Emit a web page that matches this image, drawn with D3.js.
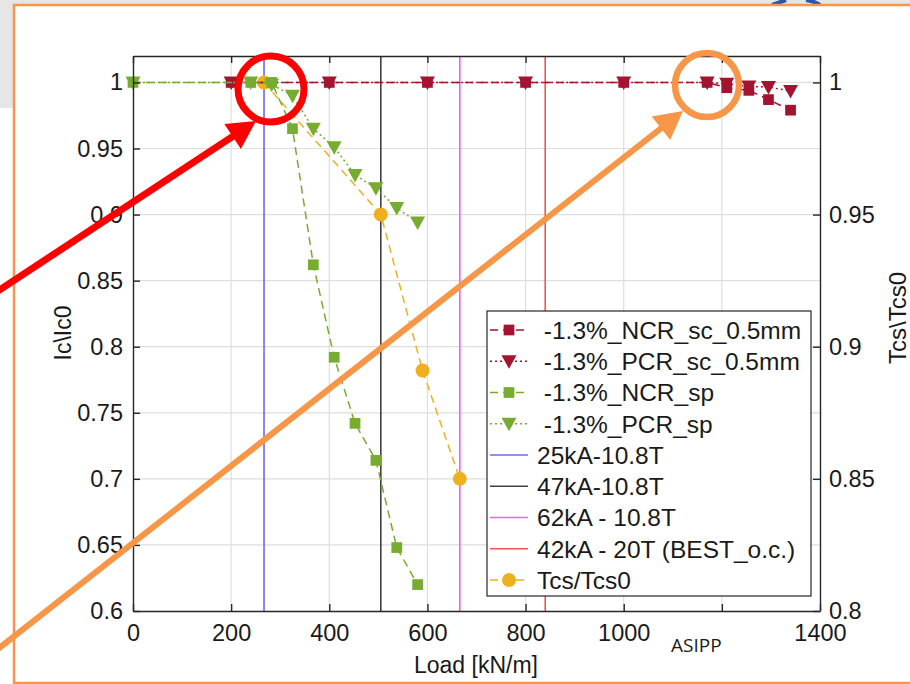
<!DOCTYPE html>
<html>
<head>
<meta charset="utf-8">
<script src="https://cdn.jsdelivr.net/npm/d3@7"></script>
<style>
body { margin: 0; background: #fff; }
text { font-family: "Liberation Sans", Arial, sans-serif; fill: #1a1a1a; }
</style>
</head>
<body>
<script>
// data
var scLoad = [200, 400, 600, 800, 1000, 1170, 1210, 1255, 1295, 1340];
var ncrScIc = [1, 1, 1, 1, 1, 1, 0.996, 0.994, 0.987, 0.979];
var pcrScIc = [1, 1, 1, 1, 1, 1, 0.999, 0.997, 0.9965, 0.9935];
var spLoad = [0, 240, 282.5, 325, 367.5, 410, 452.5, 495, 537.5, 580];
var ncrSpIc = [1, 1, 1, 0.965, 0.862, 0.792, 0.742, 0.714, 0.648, 0.620];
var pcrSpIc = [1, 1, 0.9985, 0.99, 0.965, 0.951, 0.93, 0.92, 0.905, 0.894];
var tcsLoad = [267, 505, 590, 666];
var tcsVal = [1, 0.95, 0.891, 0.85];
var refLoad = [267, 505, 666, 840];
var refNames = ["25kA-10.8T", "47kA-10.8T", "62kA - 10.8T", "42kA - 20T (BEST_o.c.)"];
var seriesNames = [" -1.3%_NCR_sc_0.5mm", " -1.3%_PCR_sc_0.5mm", " -1.3%_NCR_sp", " -1.3%_PCR_sp"];
var tcsName = "Tcs/Tcs0";
var xTicks = [0, 200, 400, 600, 800, 1000, 1200, 1400];
var xTickLabels = ["0", "200", "400", "600", "800", "1000", "", "1400"]; // 1200 hidden by the slide's ASIPP label
var yLeftTicks = [0.6, 0.65, 0.7, 0.75, 0.8, 0.85, 0.9, 0.95, 1];
var yRightTicks = [0.8, 0.85, 0.9, 0.95, 1];

var red = "#a2142f", green = "#77ac30", orange = "#edb120";
var refColors = ["#6b6bef", "#404040", "#f25ef2", "#f05555"];

var svg = d3.select("body").append("svg")
    .attr("width", 910)
    .attr("height", 684);

// slide background + frame
svg.append("rect").attr("x", 0).attr("y", 0).attr("width", 910).attr("height", 108).attr("fill", "#e6e6e6");
svg.append("path").attr("d", "M772,5 L786,0 M806,0 Q814,1 820,5").attr("stroke", "#2a55b0").attr("stroke-width", 4).attr("fill", "none");
svg.append("rect").attr("x", 14).attr("y", 5).attr("width", 900).attr("height", 678)
    .attr("fill", "#fff").attr("stroke", "#f79646").attr("stroke-width", 2.5);

var x = d3.scaleLinear().domain([0, 1400]).range([133, 820]);
var yL = d3.scaleLinear().domain([0.6, 1.02]).range([611, 56]);
var yR = d3.scaleLinear().domain([0.8, 1.01]).range([611, 56]);

var plot = svg.append("g");

// grid
plot.selectAll(".gx").data(xTicks.slice(1, -1)).enter().append("line")
    .attr("x1", d => x(d)).attr("x2", d => x(d))
    .attr("y1", yL.range()[1]).attr("y2", yL.range()[0])
    .attr("stroke", "#dedede").attr("stroke-width", 1.2);
plot.selectAll(".gy").data(yLeftTicks.slice(1)).enter().append("line")
    .attr("x1", x.range()[0]).attr("x2", x.range()[1])
    .attr("y1", d => yL(d)).attr("y2", d => yL(d))
    .attr("stroke", "#dedede").attr("stroke-width", 1.2);

// reference lines
plot.selectAll(".ref").data(refLoad).enter().append("line")
    .attr("x1", d => x(d)).attr("x2", d => x(d))
    .attr("y1", yL.range()[1]).attr("y2", yL.range()[0])
    .attr("stroke", (d, i) => refColors[i]).attr("stroke-width", 1.6);

var triPath = "M-7.5,-6L7.5,-6L0,7.5Z";
var sq = d3.symbol().type(d3.symbolSquare).size(115)();

function series(xs, ys, yScale, color, dash, marker) {
    var pts = xs.map((d, i) => [d, ys[i]]);
    var line = d3.line().x(d => x(d[0])).y(d => yScale(d[1]));
    plot.append("path").datum(pts).attr("d", line)
        .attr("fill", "none").attr("stroke", color).attr("stroke-width", 1.5)
        .attr("stroke-dasharray", dash);
    var m = plot.append("g").selectAll("path").data(pts).enter();
    if (marker === "circle") {
        m.append("circle").attr("cx", d => x(d[0])).attr("cy", d => yScale(d[1]))
            .attr("r", 7).attr("fill", color);
    } else {
        m.append("path").attr("d", marker === "tri" ? triPath : sq)
            .attr("transform", d => "translate(" + x(d[0]) + "," + yScale(d[1]) + ")")
            .attr("fill", color);
    }
}

series(tcsLoad, tcsVal, yR, orange, "8,5", "circle");
series(scLoad, ncrScIc, yL, red, "8,5", "sq");
series(scLoad, pcrScIc, yL, red, "2,3", "tri");
series(spLoad, ncrSpIc, yL, green, "8,5", "sq");
series(spLoad, pcrSpIc, yL, green, "2,3", "tri");

// axes
function styleAxis(g) {
    g.selectAll("path, line").attr("stroke", "#262626").attr("stroke-width", 1.4);
    g.selectAll("text").attr("font-size", 23.5).attr("fill", "#1a1a1a")
        .attr("font-family", "Liberation Sans, Arial, sans-serif");
}
var fmt = d3.format("");
svg.append("g").attr("transform", "translate(0,611)")
    .call(d3.axisBottom(x).tickValues(xTicks).tickFormat((d, i) => xTickLabels[i])
        .tickSizeInner(-7).tickSizeOuter(0).tickPadding(13))
    .call(styleAxis);
svg.append("g").attr("transform", "translate(0,56)")
    .call(d3.axisTop(x).tickValues(xTicks).tickFormat("").tickSizeInner(-7).tickSizeOuter(0))
    .call(styleAxis);
svg.append("g").attr("transform", "translate(133,0)")
    .call(d3.axisLeft(yL).tickValues(yLeftTicks).tickFormat(fmt).tickSizeInner(-7).tickSizeOuter(0).tickPadding(10))
    .call(styleAxis);
svg.append("g").attr("transform", "translate(820,0)")
    .call(d3.axisRight(yR).tickValues(yRightTicks).tickFormat(fmt).tickSizeInner(-7).tickSizeOuter(0).tickPadding(9))
    .call(styleAxis);

svg.append("text").attr("x", 476).attr("y", 673).attr("text-anchor", "middle")
    .attr("font-size", 23).text("Load [kN/m]");
svg.append("text").attr("transform", "translate(71,333) rotate(-90)").attr("text-anchor", "middle")
    .attr("font-size", 23).text("Ic\\Ic0");
svg.append("text").attr("transform", "translate(906,318) rotate(-90)").attr("text-anchor", "middle")
    .attr("font-size", 24).text("Tcs\\Tcs0");

svg.append("text").attr("x", 671).attr("y", 652)
    .style("font-family", "'Open Sans', sans-serif").style("font-size", "19px").text("ASIPP");

// legend
var legend = svg.append("g").attr("transform", "translate(487,311)");
legend.append("rect").attr("width", 324).attr("height", 285)
    .attr("fill", "#fff").attr("stroke", "#262626").attr("stroke-width", 1.2);
var entries = [
    {name: seriesNames[0], color: red, dash: "8,5", marker: "sq"},
    {name: seriesNames[1], color: red, dash: "2,3", marker: "tri"},
    {name: seriesNames[2], color: green, dash: "8,5", marker: "sq"},
    {name: seriesNames[3], color: green, dash: "2,3", marker: "tri"}
];
refNames.forEach((n, i) => entries.push({name: n, color: refColors[i], dash: null, marker: null}));
entries.push({name: tcsName, color: orange, dash: "8,5", marker: "circle"});
var rowY = d3.scaleLinear().domain([0, entries.length - 1]).range([19, 269]);
var row = legend.selectAll(".row").data(entries).enter().append("g")
    .attr("transform", (d, i) => "translate(0," + rowY(i) + ")");
row.append("line").attr("x1", 3).attr("x2", 41)
    .attr("stroke", d => d.color).attr("stroke-width", 1.6)
    .attr("stroke-dasharray", d => d.dash);
row.filter(d => d.marker === "sq").append("path").attr("d", sq).attr("transform", "translate(22,0)").attr("fill", d => d.color);
row.filter(d => d.marker === "tri").append("path").attr("d", triPath).attr("transform", "translate(22,0)").attr("fill", d => d.color);
row.filter(d => d.marker === "circle").append("circle").attr("cx", 22).attr("r", 7).attr("fill", d => d.color);
row.append("text").attr("x", 50).attr("dy", "0.36em").attr("font-size", 24.5)
    .style("white-space", "pre").text(d => d.name);

// annotations
function arrow(x0, y0, x1, y1, color, w) {
    var dx = x1 - x0, dy = y1 - y0, len = Math.sqrt(dx * dx + dy * dy);
    var ux = dx / len, uy = dy / len, L = 28, W = 15;
    var bx = x1 - ux * L, by = y1 - uy * L;
    svg.append("line").attr("x1", x0).attr("y1", y0).attr("x2", bx + ux * 2).attr("y2", by + uy * 2)
        .attr("stroke", color).attr("stroke-width", w);
    svg.append("path").attr("d", "M" + x1 + "," + y1 + "L" + (bx - uy * W) + "," + (by + ux * W) +
        "L" + (bx + uy * W) + "," + (by - ux * W) + "Z").attr("fill", color);
}
svg.append("circle").attr("cx", 271).attr("cy", 89).attr("r", 33).attr("fill", "none")
    .attr("stroke", "#ff0000").attr("stroke-width", 7);
arrow(-2, 291, 256, 121, "#ff0000", 7);
svg.append("circle").attr("cx", 707).attr("cy", 85).attr("r", 32).attr("fill", "none")
    .attr("stroke", "#f79646").attr("stroke-width", 6.5);
arrow(-2, 649, 683, 111, "#f79646", 6);
</script>
</body>
</html>
